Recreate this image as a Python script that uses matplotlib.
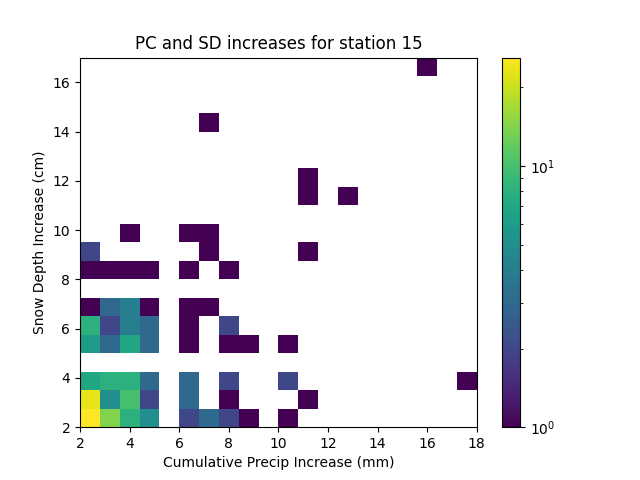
import numpy as np
import matplotlib
matplotlib.use("Agg")
import matplotlib.pyplot as plt
from matplotlib.colors import LogNorm

# counts per bin, (row, column) -> count, rows go bottom to top
row0 = {0: 26, 1: 14, 2: 8, 3: 5, 5: 2, 6: 3, 7: 2, 8: 1, 10: 1}
row1 = {0: 23, 1: 5, 2: 10, 3: 2, 5: 3, 7: 1, 11: 1}
row2 = {0: 7, 1: 8, 2: 8, 3: 3, 5: 3, 7: 2, 10: 2, 19: 1}
row4 = {0: 6, 1: 3, 2: 7, 3: 3, 5: 1, 7: 1, 8: 1, 10: 1}
row5 = {0: 8, 1: 2, 2: 4, 3: 3, 5: 1, 7: 2}
row6 = {0: 1, 1: 3, 2: 4, 3: 1, 5: 1, 6: 1}
row8 = {0: 1, 1: 1, 2: 1, 3: 1, 5: 1, 7: 1}
row9 = {0: 2, 6: 1, 11: 1}
row10 = {2: 1, 5: 1, 6: 1}
row12 = {11: 1, 13: 1}
row13 = {11: 1}
row16 = {6: 1}
row19 = {17: 1}
rows = {0: row0, 1: row1, 2: row2, 4: row4, 5: row5, 6: row6, 8: row8,
        9: row9, 10: row10, 12: row12, 13: row13, 16: row16, 19: row19}

nBins = 20
xRange = [2, 18]
yRange = [2, 17]


def main():
    xEdges = np.linspace(xRange[0], xRange[1], nBins + 1)
    yEdges = np.linspace(yRange[0], yRange[1], nBins + 1)

    # rebuild the samples as bin centres with weights
    x = []
    y = []
    w = []
    for r in rows:
        for c in rows[r]:
            x.append((xEdges[c] + xEdges[c + 1]) / 2)
            y.append((yEdges[r] + yEdges[r + 1]) / 2)
            w.append(rows[r][c])

    fig, ax = plt.subplots(figsize=(6.4, 4.8), dpi=100)
    h = ax.hist2d(x, y, bins=[xEdges, yEdges], weights=w, norm=LogNorm(), cmin=1)
    fig.colorbar(h[3], ax=ax)
    ax.set_title("PC and SD increases for station 15")
    ax.set_xlabel("Cumulative Precip Increase (mm)")
    ax.set_ylabel("Snow Depth Increase (cm)")
    fig.savefig("out.png")


if __name__ == '__main__':
    main()
